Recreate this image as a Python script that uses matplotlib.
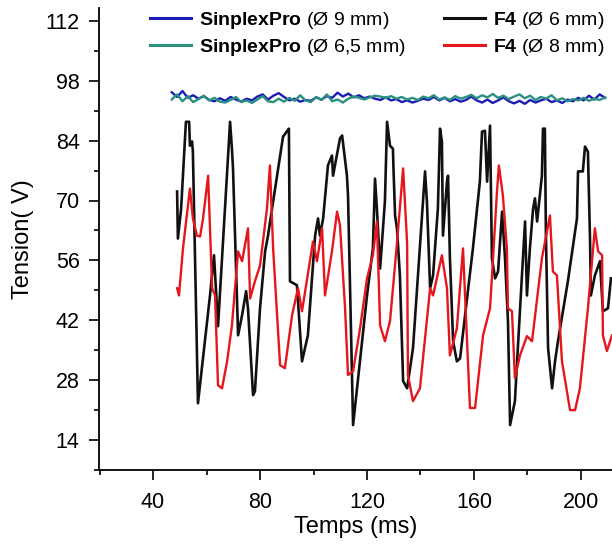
import matplotlib
matplotlib.use("Agg")
import matplotlib.pyplot as plt
from matplotlib.ticker import MultipleLocator

plt.rcParams['font.family'] = ['Liberation Sans', 'DejaVu Sans']
plt.rcParams['mathtext.fontset'] = 'custom'
plt.rcParams['mathtext.rm'] = 'Liberation Sans'
plt.rcParams['mathtext.bf'] = 'Liberation Sans:bold'

# ---- data (time in ms, tension in V) ----
noise_t = [47, 49, 51, 53, 55, 57, 59, 61, 63, 65, 67, 69, 71, 73, 75, 77, 79, 81, 83, 85,
           87, 89, 91, 93, 95, 97, 99, 101, 103, 105, 107, 109, 111, 113, 115, 117, 119, 121, 123, 125,
           127, 129, 131, 133, 135, 137, 139, 141, 143, 145, 147, 149, 151, 153, 155, 157, 159, 161, 163, 165,
           167, 169, 171, 173, 175, 177, 179, 181, 183, 185, 187, 189, 191, 193, 195, 197, 199, 201, 203, 205,
           207, 209]

sinplex9_v = [95.3, 94.2, 95.6, 94.0, 94.6, 93.8, 94.4, 93.5, 93.2, 93.9,
              93.3, 94.2, 93.6, 93.1, 93.8, 93.4, 94.3, 94.8, 93.6, 94.5,
              95.1, 94.2, 93.4, 93.8, 93.1, 93.5, 93.3, 94.1, 93.6, 94.4,
              94.0, 95.2, 94.3, 95.0, 94.1, 94.6, 93.9, 94.3, 93.8, 93.5,
              94.1, 93.4, 93.7, 93.0, 93.4, 92.9, 93.3, 93.8, 93.5, 94.2,
              93.4, 94.0, 93.2, 93.7, 93.1, 93.5, 94.3, 93.4, 92.9, 93.6,
              92.8, 93.4, 94.1, 93.2, 92.7, 93.3, 92.6, 93.5, 92.9, 93.4,
              93.8, 93.0, 93.4, 92.8, 93.6, 93.2, 94.0, 93.4, 94.5, 93.6,
              94.8, 94.0]

sinplex65_v = [93.6, 94.8, 93.2, 94.4, 93.0, 93.7, 94.5, 93.4, 94.0, 93.1,
               92.9, 93.5, 94.2, 93.0, 93.4, 92.8, 93.6, 94.4, 93.2, 93.0,
               93.8, 93.1, 94.0, 93.3, 94.6, 93.4, 93.0, 94.2, 93.5, 94.8,
               93.2, 93.6, 92.9, 93.8, 94.3, 94.0, 93.6, 94.1, 94.5, 94.3,
               94.0, 94.4, 93.8, 94.2, 93.6, 94.0, 93.5, 94.3, 93.9, 94.6,
               93.6, 94.1, 93.5, 94.4, 93.8, 94.2, 94.7, 93.9, 94.6, 94.1,
               94.9, 94.0, 94.5, 93.7, 94.3, 94.8, 93.9, 94.5, 93.5, 94.2,
               93.8, 94.6, 93.4, 93.9, 93.2, 93.7, 93.4, 94.0, 93.3, 93.8,
               93.5, 94.1]

f4_6_t = [49.0, 49.3, 50.5, 52.3, 53.5, 53.8, 54.6, 54.9, 56.8, 61.3,
          62.8, 63.5, 64.3, 68.0, 68.8, 69.5, 69.9, 71.8, 73.3, 74.8,
          75.5, 77.4, 78.1, 80.0, 81.9, 83.0, 84.5, 88.6, 90.8, 91.2,
          93.8, 95.7, 97.9, 100.6, 101.7, 102.4, 103.6, 105.4, 106.9, 107.3,
          109.9, 110.7, 112.5, 112.9, 114.8, 120.0, 122.2, 123.0, 123.7, 124.9,
          126.7, 127.5, 128.6, 129.7, 129.9, 130.5, 131.2, 132.3, 133.5, 135.0,
          137.2, 141.7, 142.4, 143.6, 144.7, 146.5, 147.3, 148.0, 148.4, 149.9,
          150.3, 151.0, 152.2, 153.6, 154.8, 157.4, 159.6, 162.2, 163.0, 164.1,
          164.9, 166.0, 166.7, 167.9, 169.0, 170.5, 171.6, 172.7, 173.5, 175.3,
          176.4, 178.3, 179.1, 179.8, 180.9, 182.1, 182.8, 183.6, 185.4, 185.8,
          186.5, 186.9, 187.7, 189.2, 190.3, 191.4, 195.1, 198.5, 198.9, 200.7,
          201.5, 202.6, 203.4, 203.7, 205.2, 207.1, 208.2, 210.1, 211.2]
f4_6_v = [72.1, 61.1, 68.1, 88.4, 88.4, 82.8, 83.8, 81.4, 22.6, 47.8,
          57.2, 49.5, 40.6, 79.8, 88.4, 82.1, 77.5, 38.5, 43.2, 48.8,
          44.8, 24.5, 25.4, 44.8, 58.1, 61.8, 68.1, 84.9, 86.8, 51.1,
          50.2, 32.4, 38.5, 61.8, 65.8, 61.8, 65.8, 78.2, 80.5, 75.8,
          84.5, 85.2, 75.8, 71.2, 17.5, 47.8, 58.8, 75.1, 68.1, 54.1,
          69.8, 88.4, 82.8, 82.1, 77.5, 66.5, 63.5, 52.5, 27.8, 26.1,
          35.5, 76.8, 69.8, 49.5, 52.5, 68.1, 86.8, 83.8, 61.8, 74.4,
          75.8, 56.5, 37.1, 32.4, 33.1, 47.1, 58.8, 74.4, 86.1, 86.3,
          74.4, 87.5, 56.5, 51.8, 53.4, 67.4, 56.5, 41.8, 17.5, 23.1,
          35.5, 56.5, 65.1, 47.8, 58.8, 68.1, 70.5, 65.1, 75.8, 86.8,
          86.8, 61.8, 35.5, 26.1, 32.4, 37.1, 51.1, 65.8, 76.8, 76.8,
          82.6, 81.4, 60.4, 47.8, 52.5, 55.8, 44.1, 44.8, 51.8]

f4_8_t = [49.0, 49.7, 51.2, 53.8, 54.9, 56.4, 57.6, 58.7, 60.6, 62.1,
          63.2, 64.3, 65.8, 67.7, 69.5, 71.8, 73.3, 75.5, 76.3, 78.1,
          80.0, 82.6, 83.7, 84.9, 87.5, 89.3, 92.0, 94.2, 95.7, 99.8,
          101.3, 103.2, 104.3, 106.9, 108.8, 109.9, 111.8, 112.9, 114.8, 117.4,
          120.0, 122.2, 123.7, 124.9, 126.7, 128.6, 131.2, 133.5, 135.0, 135.3,
          137.2, 139.8, 143.6, 144.7, 148.0, 149.9, 151.0, 153.6, 155.9, 157.4,
          158.5, 160.4, 163.4, 166.0, 168.6, 169.3, 170.8, 172.3, 172.7, 174.2,
          175.3, 177.2, 179.8, 181.7, 185.4, 188.4, 189.5, 191.0, 192.9, 195.9,
          197.8, 199.6, 202.6, 205.2, 206.4, 207.9, 208.2, 209.7, 211.6]
f4_8_v = [49.5, 47.8, 58.8, 72.8, 65.8, 61.8, 61.6, 65.8, 75.8, 49.5,
          47.8, 26.8, 26.1, 32.4, 40.8, 58.1, 55.8, 63.5, 47.1, 51.1,
          54.8, 68.1, 78.2, 58.8, 31.5, 30.8, 43.2, 49.5, 44.1, 60.4,
          55.8, 63.5, 47.8, 58.1, 67.4, 64.2, 44.8, 29.2, 30.1, 40.1,
          51.8, 57.2, 65.1, 40.8, 37.1, 41.8, 60.0, 77.5, 60.0, 29.2,
          23.1, 26.1, 49.5, 47.8, 57.2, 49.5, 33.8, 40.1, 58.8, 37.1,
          21.5, 21.5, 38.5, 44.8, 72.1, 78.2, 71.2, 58.8, 44.8, 44.1,
          28.5, 33.8, 38.3, 37.1, 56.5, 66.5, 53.4, 52.5, 32.4, 21.0,
          21.0, 26.1, 44.8, 63.5, 58.1, 57.2, 38.5, 34.8, 38.5]

labels = [r'$\mathbf{SinplexPro}$ (Ø 9 mm)', r'$\mathbf{SinplexPro}$ (Ø 6,5 mm)',
          r'$\mathbf{F4}$ (Ø 6 mm)', r'$\mathbf{F4}$ (Ø 8 mm)']
colors = ['#1c1cb8', '#2a9080', '#111111', '#e5161c']

x_ticks = [40, 80, 120, 160, 200]
y_ticks = [14, 28, 42, 56, 70, 84, 98, 112]

# ---- figure ----
fig = plt.figure(figsize=(6.12, 5.44), dpi=100)
ax = fig.add_axes([99/612, 74/544, (612-99)/612, (470-8)/544])

h1, = ax.plot(noise_t, sinplex9_v, color=colors[0], lw=1.7, label=labels[0])
h2, = ax.plot(noise_t, sinplex65_v, color=colors[1], lw=1.7, label=labels[1])
h3, = ax.plot(f4_6_t, f4_6_v, color=colors[2], lw=1.9, label=labels[2])
h4, = ax.plot(f4_8_t, f4_8_v, color=colors[3], lw=1.7, label=labels[3])

ax.set_xlim(19.8, 211.6)
ax.set_ylim(7, 115)
ax.set_xticks(x_ticks)
ax.set_yticks(y_ticks)
ax.xaxis.set_minor_locator(MultipleLocator(20))
ax.yaxis.set_minor_locator(MultipleLocator(7))

for s in ['top', 'right']:
    ax.spines[s].set_visible(False)
for s in ['left', 'bottom']:
    ax.spines[s].set_linewidth(1.3)

ax.tick_params(which='major', direction='out', length=7, width=1.2, labelsize=15.5)
ax.tick_params(which='minor', direction='out', length=3.6, width=1.2)
ax.tick_params(axis='x', which='major', pad=9)
ax.tick_params(axis='y', which='major', pad=7)

ax.set_xlabel('Temps (ms)', fontsize=17, labelpad=2)
ax.set_ylabel('Tension( V)', fontsize=17, labelpad=8)

leg = ax.legend(handles=[h1, h2, h3, h4], ncol=2, loc='upper left',
                bbox_to_anchor=(150/612, 1 - 10/544), bbox_transform=fig.transFigure,
                frameon=False, fontsize=14, handlelength=2.1, handletextpad=0.4,
                columnspacing=2.0, labelspacing=0.3, borderpad=0, borderaxespad=0)
for line in leg.get_lines():
    line.set_linewidth(2.2)

fig.savefig('out.png', dpi=100)
